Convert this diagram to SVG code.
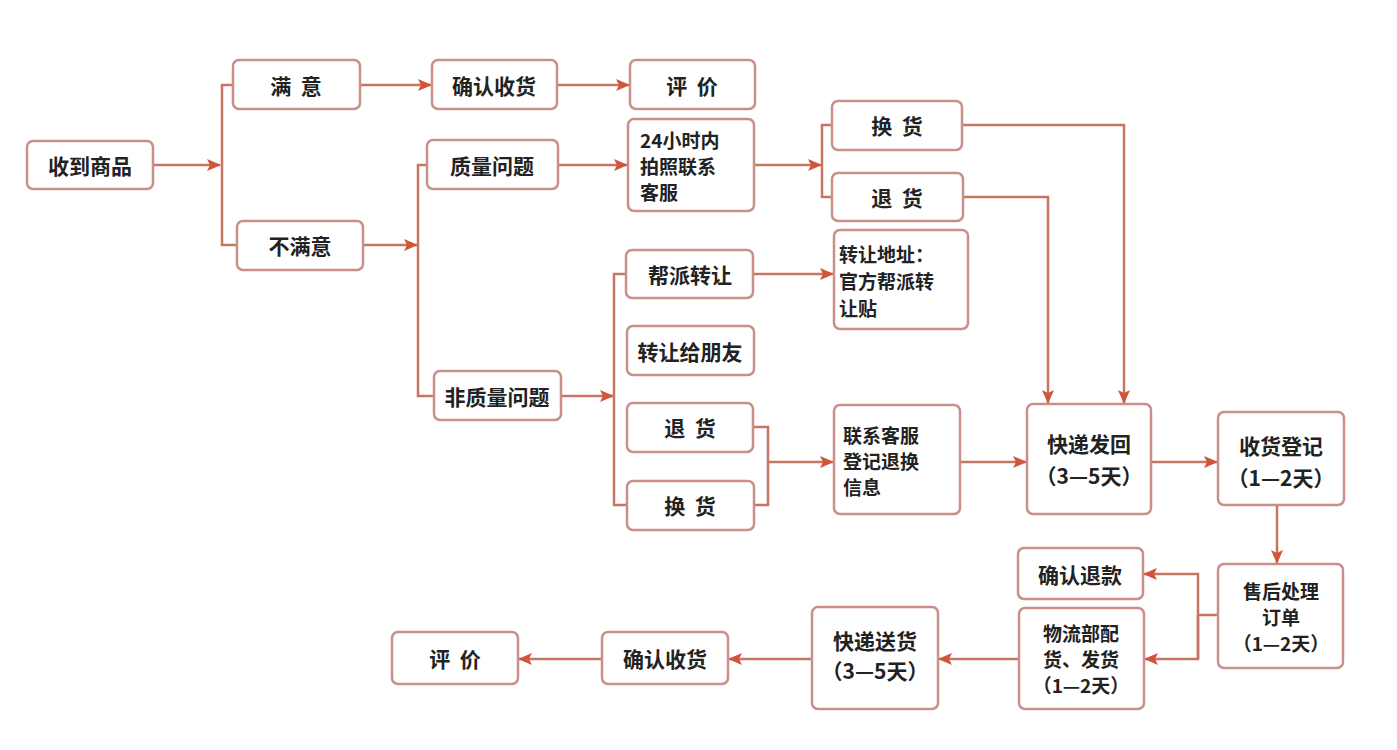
<svg xmlns="http://www.w3.org/2000/svg" width="1397" height="750" viewBox="0 0 1397 750">
<defs>
<style>
.b{fill:#fff;stroke:#c99089;stroke-width:2.5}
.t{font-family:"Noto Sans CJK SC","Noto Sans",sans-serif;font-size:21px;font-weight:bold;fill:#222;dominant-baseline:central}
.s{font-size:19px}
.c{text-anchor:middle}
.l{fill:none;stroke:#c87462;stroke-width:2.5}
.a{fill:none;stroke:#c87462;stroke-width:2.5;marker-end:url(#ah)}
</style>
<marker id="ah" markerUnits="userSpaceOnUse" markerWidth="14" markerHeight="12" refX="13" refY="6" orient="auto">
<path d="M0,0 L14,6 L0,12 L3,6 Z" fill="#d0553a"/>
</marker>
</defs>
<rect width="1397" height="750" fill="#fff"/>
<g id="connectors">
<path class="a" d="M153,165 H220"/>
<path class="l" d="M233,85 H222 V245 H237"/>
<path class="a" d="M360,85 H431"/>
<path class="a" d="M557,85 H629"/>
<path class="a" d="M363,245 H417"/>
<path class="l" d="M427,165 H418 V396 H434"/>
<path class="a" d="M558,165 H627"/>
<path class="a" d="M754,165 H821"/>
<path class="l" d="M832,125 H822 V197 H832"/>
<path class="a" d="M962,125 H1124 V403"/>
<path class="a" d="M963,197 H1048 V403"/>
<path class="a" d="M561,396 H613"/>
<path class="l" d="M626,274 H614 V505 H627"/>
<path class="a" d="M753,274 H833"/>
<path class="l" d="M753,427 H768 V505 H754"/>
<path class="a" d="M768,462 H833"/>
<path class="a" d="M960,462 H1026"/>
<path class="a" d="M1151,462 H1217"/>
<path class="a" d="M1277,505 V563"/>
<path class="l" d="M1218,615 H1198"/>
<path class="a" d="M1198,659 V574 H1144"/>
<path class="a" d="M1198,615 V659 H1145"/>
<path class="a" d="M1019,659 H939"/>
<path class="a" d="M812,659 H729"/>
<path class="a" d="M602,659 H519"/>
</g>
<g id="n1"><rect class="b" x="27" y="141" width="126" height="48" rx="6"/><text class="t c" x="90" y="165">收到商品</text></g>
<g id="n2"><rect class="b" x="233" y="60" width="127" height="49" rx="6"/><text class="t c" x="296" y="85" xml:space="preserve">满  意</text></g>
<g id="n3"><rect class="b" x="237" y="221" width="126" height="49" rx="6"/><text class="t c" x="300" y="245">不满意</text></g>
<g id="n4"><rect class="b" x="432" y="60" width="125" height="49" rx="6"/><text class="t c" x="494" y="85">确认收货</text></g>
<g id="n5"><rect class="b" x="630" y="60" width="125" height="49" rx="6"/><text class="t c" x="692" y="85" xml:space="preserve">评  价</text></g>
<g id="n6"><rect class="b" x="427" y="140" width="131" height="49" rx="6"/><text class="t c" x="492" y="165">质量问题</text></g>
<g id="n7"><rect class="b" x="628" y="119" width="126" height="92" rx="6"/><text class="t s" x="640" y="139">24小时内</text><text class="t s" x="640" y="165">拍照联系</text><text class="t s" x="640" y="191">客服</text></g>
<g id="n8"><rect class="b" x="832" y="101" width="130" height="49" rx="6"/><text class="t c" x="897" y="125" xml:space="preserve">换  货</text></g>
<g id="n9"><rect class="b" x="832" y="173" width="131" height="48" rx="6"/><text class="t c" x="897" y="197" xml:space="preserve">退  货</text></g>
<g id="n10"><rect class="b" x="626" y="250" width="127" height="48" rx="6"/><text class="t c" x="690" y="274">帮派转让</text></g>
<g id="n11"><rect class="b" x="834" y="230" width="134" height="99" rx="6"/><text class="t s" x="839" y="253">转让地址：</text><text class="t s" x="839" y="280">官方帮派转</text><text class="t s" x="839" y="307">让贴</text></g>
<g id="n12"><rect class="b" x="627" y="326" width="127" height="49" rx="6"/><text class="t c" x="690" y="351">转让给朋友</text></g>
<g id="n13"><rect class="b" x="434" y="371" width="127" height="49" rx="6"/><text class="t c" x="497" y="396">非质量问题</text></g>
<g id="n14"><rect class="b" x="627" y="403" width="126" height="49" rx="6"/><text class="t c" x="690" y="427" xml:space="preserve">退  货</text></g>
<g id="n15"><rect class="b" x="627" y="481" width="127" height="49" rx="6"/><text class="t c" x="690" y="505" xml:space="preserve">换  货</text></g>
<g id="n16"><rect class="b" x="834" y="405" width="126" height="109" rx="6"/><text class="t s" x="843" y="434">联系客服</text><text class="t s" x="843" y="460">登记退换</text><text class="t s" x="843" y="486">信息</text></g>
<g id="n17"><rect class="b" x="1027" y="404" width="124" height="110" rx="6"/><text class="t c" x="1089" y="443">快递发回</text><text class="t c" x="1089" y="475">（3—5天）</text></g>
<g id="n18"><rect class="b" x="1218" y="412" width="126" height="93" rx="6"/><text class="t c" x="1281" y="445">收货登记</text><text class="t c" x="1281" y="477">（1—2天）</text></g>
<g id="n19"><rect class="b" x="1218" y="564" width="125" height="104" rx="6"/><text class="t c s" x="1281" y="590">售后处理</text><text class="t c s" x="1281" y="616">订单</text><text class="t c s" x="1281" y="642">（1—2天）</text></g>
<g id="n20"><rect class="b" x="1018" y="548" width="125" height="51" rx="6"/><text class="t c" x="1080" y="574">确认退款</text></g>
<g id="n21"><rect class="b" x="1019" y="608" width="125" height="101" rx="6"/><text class="t c s" x="1081" y="632">物流部配</text><text class="t c s" x="1081" y="658">货、发货</text><text class="t c s" x="1081" y="684">（1—2天）</text></g>
<g id="n22"><rect class="b" x="812" y="607" width="126" height="102" rx="6"/><text class="t c" x="875" y="640">快递送货</text><text class="t c" x="875" y="670">（3—5天）</text></g>
<g id="n23"><rect class="b" x="602" y="632" width="126" height="52" rx="6"/><text class="t c" x="665" y="658">确认收货</text></g>
<g id="n24"><rect class="b" x="392" y="632" width="126" height="52" rx="6"/><text class="t c" x="455" y="658" xml:space="preserve">评  价</text></g>
</svg>
